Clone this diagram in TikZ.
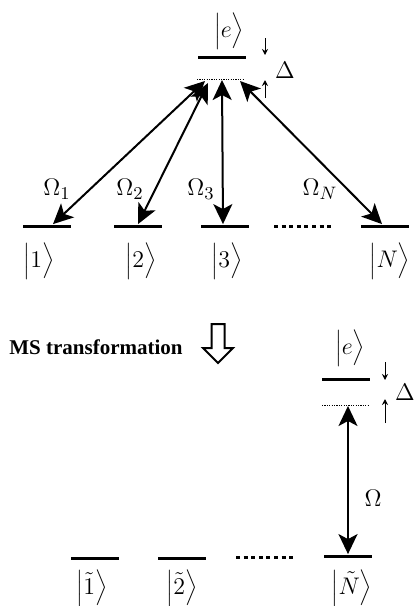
\documentclass[tikz,border=0pt]{standalone}
\usepackage{fontspec}
\setmainfont{Liberation Serif}
\usetikzlibrary{arrows.meta}
\newcommand{\ket}[1]{\Big|#1\Big\rangle}
\begin{document}
\begin{tikzpicture}[x=0.5pt,y=-0.5pt,
  level/.style={fill=black, inner sep=0pt, minimum width=24pt, minimum height=1.5pt},
  virt/.style={line width=0.5pt, dash pattern=on 0.6pt off 0.6pt},
  dots/.style={line width=1.5pt, dash pattern=on 2pt off 1.8pt},
  trans/.style={{Stealth[length=10pt,width=9.5pt,inset=2.5pt]}-{Stealth[length=10pt,width=9.5pt,inset=2.5pt]}, line width=1pt},
  small/.style={-{Stealth[length=3pt,width=3pt]}, line width=0.5pt},
  lab/.style={font=\fontsize{12.5}{14}\selectfont, inner sep=0pt},
  ket/.style={font=\fontsize{11.5}{13}\selectfont, inner sep=0pt}]
  \useasboundingbox (0,0) rectangle (414,606);

  \node[ket] (ke) at (229,31) {$\ket{e}$};
  \node[level] (e) at (222,57) {};
  \coordinate (vL) at (197,79);
  \coordinate (vR) at (243,79);
  \draw[virt] (vL) -- (vR);
  \coordinate (a1) at (265,38);
  \coordinate (a2) at (265,55);
  \coordinate (a3) at (265,98);
  \coordinate (a4) at (265,80);
  \draw[small] (a1) -- (a2);
  \draw[small] (a3) -- (a4);
  \node[lab] (D) at (285,70) {$\Delta$};

  \node[level] (g1) at (47,226) {};
  \node[level] (g2) at (138,226) {};
  \node[level] (g3) at (225,226) {};
  \node[level] (gN) at (385,226) {};
  \coordinate (d1) at (274,226);
  \coordinate (d2) at (334,226);
  \draw[dots] (d1) -- (d2);

  \coordinate (t1) at (205,81);
  \coordinate (t2) at (208,83);
  \coordinate (t3) at (222,80);
  \coordinate (tN) at (240,81);
  \draw[trans] (t1) -- ([xshift=3pt]g1.north);
  \draw[trans] (t2) -- (g2.north);
  \draw[trans] (t3) -- ([xshift=-1pt]g3.north);
  \draw[trans] (tN) -- ([xshift=-1.5pt]gN.north);

  \node[lab] (O1) at (57,189) {$\Omega_1$};
  \node[lab] (O2) at (130,189) {$\Omega_2$};
  \node[lab] (O3) at (201,189) {$\Omega_3$};
  \node[lab] (ON) at (320,189) {$\Omega_N$};

  \node[ket] (k1) at (39,261) {$\ket{1}$};
  \node[ket] (k2) at (141,261) {$\ket{2}$};
  \node[ket] (k3) at (227,261) {$\ket{3}$};
  \node[ket] (kN) at (390,261) {$\ket{N}$};

  \node[font=\bfseries\fontsize{10.5}{12}\selectfont] (ms) at (96,347) {MS transformation};
  \draw[line width=1pt, line join=miter] (211.5,324) -- (211.5,348) -- (203,348) -- (218,363)
    -- (233,348) -- (224.5,348) -- (224.5,324) -- cycle;

  \node[ket] (kE) at (350,348) {$\ket{e}$};
  \node[level] (E) at (346,379) {};
  \coordinate (wL) at (322,405);
  \coordinate (wR) at (368,405);
  \draw[virt] (wL) -- (wR);
  \coordinate (b1) at (385,362);
  \coordinate (b2) at (385,380);
  \coordinate (b3) at (385,423);
  \coordinate (b4) at (385,399);
  \draw[small] (b1) -- (b2);
  \draw[small] (b3) -- (b4);
  \node[lab] (DD) at (405,392) {$\Delta$};

  \node[level] (h1) at (95,558) {};
  \node[level] (h2) at (182,558) {};
  \node[level] (hN) at (348,556) {};
  \coordinate (c1) at (236,557);
  \coordinate (c2) at (294,557);
  \draw[dots] (c1) -- (c2);

  \coordinate (s) at (348,406);
  \draw[trans] (s) -- (hN.north);
  \node[lab] (O) at (373,498) {$\Omega$};

  \node[ket] (q1) at (92,588) {$\ket{\tilde{1}}$};
  \node[ket] (q2) at (182,588) {$\ket{\tilde{2}}$};
  \node[ket] (qN) at (352,588) {$\ket{\tilde{N}}$};
\end{tikzpicture}
\end{document}
